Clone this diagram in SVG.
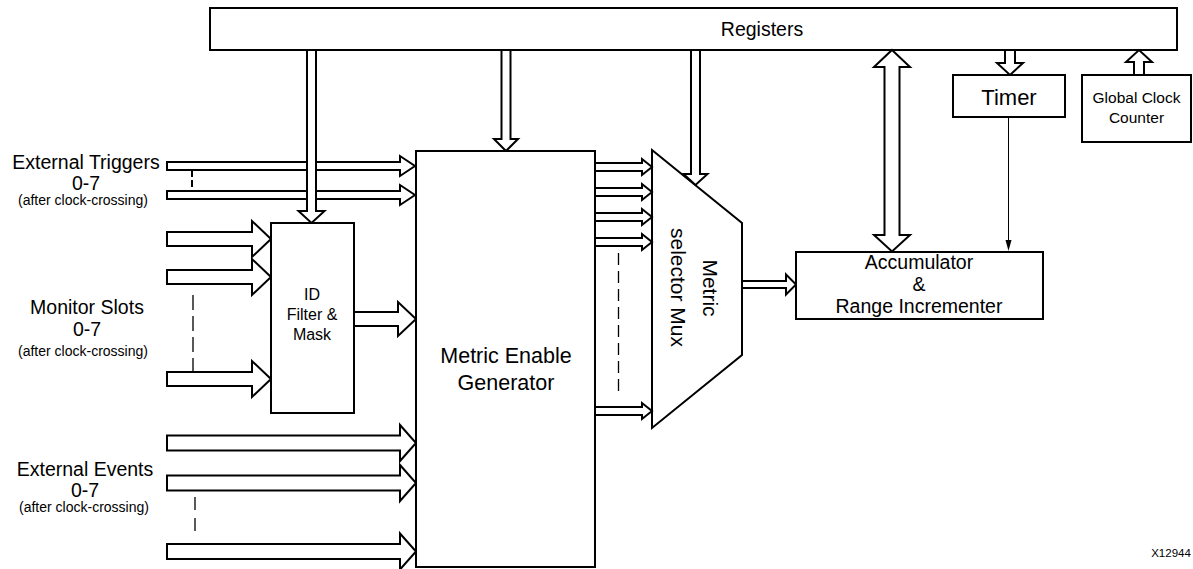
<svg xmlns="http://www.w3.org/2000/svg" width="1193" height="569" viewBox="0 0 1193 569">
<style>
.box{fill:#fff;stroke:#000;stroke-width:2}
.arr{fill:#fff;stroke:#000;stroke-width:2;stroke-linejoin:miter}
.t{font-family:"Liberation Sans",Arial,Helvetica,sans-serif;fill:#000;text-anchor:middle}
.dash{fill:none;stroke:#000}
</style>
<rect width="1193" height="569" fill="#fff"/>

<g id="registers">
<rect class="box" x="210" y="8" width="967" height="42"/>
<text class="t" x="762" y="36" font-size="19.5">Registers</text>
</g>

<g id="left-labels">
<text class="t" x="86" y="169" font-size="19.5">External Triggers</text>
<text class="t" x="86" y="190" font-size="19.5">0-7</text>
<text class="t" x="83" y="205" font-size="14">(after clock-crossing)</text>
<text class="t" x="87" y="314" font-size="19.5">Monitor Slots</text>
<text class="t" x="87" y="336" font-size="19.5">0-7</text>
<text class="t" x="83" y="356" font-size="14">(after clock-crossing)</text>
<text class="t" x="85" y="476" font-size="19.5">External Events</text>
<text class="t" x="85" y="497" font-size="19.5">0-7</text>
<text class="t" x="84" y="512" font-size="14">(after clock-crossing)</text>
</g>

<g id="metric-selector-mux">
<polygon class="box" points="652,150 742,223 742,355 652,428"/>
<text class="t" font-size="21" transform="translate(703,288) rotate(90)">Metric</text>
<text class="t" font-size="21" transform="translate(670.5,287.5) rotate(90)">selector Mux</text>
</g>

<g id="connectors">
<!-- external triggers -->
<polygon class="arr" points="167,162 400,162 400,156 415,166 400,176 400,170 167,170"/>
<polygon class="arr" points="167,191 400,191 400,185 415,195 400,205 400,199 167,199"/>
<line class="dash" x1="192" y1="170" x2="192" y2="191" stroke-width="2" stroke-dasharray="7 3"/>
<!-- monitor slots -->
<polygon class="arr" points="167,232 252,232 252,221 271,239 252,257 252,246 167,246"/>
<polygon class="arr" points="167,270 252,270 252,259 271,277 252,295 252,284 167,284"/>
<polygon class="arr" points="167,372 252,372 252,361 271,379 252,397 252,386 167,386"/>
<line class="dash" x1="193" y1="295" x2="193" y2="373" stroke="#333" stroke-width="1.3" stroke-dasharray="15 6"/>
<!-- external events -->
<polygon class="arr" points="167,435.5 400,435.5 400,425 416,443 400,461 400,450.5 167,450.5"/>
<polygon class="arr" points="167,475.5 400,475.5 400,465 416,483 400,501 400,490.5 167,490.5"/>
<polygon class="arr" points="167,544 400,544 400,533.5 416,551.5 400,569.5 400,559 167,559"/>
<line class="dash" x1="195" y1="497" x2="195" y2="532" stroke-width="1.3" stroke-dasharray="13 8"/>
<!-- ID out -->
<polygon class="arr" points="354,312 398,312 398,302 416,319 398,336 398,326 354,326"/>
<!-- registers down arrows -->
<polygon class="arr" points="307,50 316,50 316,211 324.5,211 311.5,223 298.5,211 307,211"/>
<polygon class="arr" points="501.5,50 510.5,50 510.5,139 518,139 506,151 494,139 501.5,139"/>
<polygon class="arr" points="691,50 700,50 700,174 707.5,174 695.5,185 683.5,174 691,174"/>
<polygon class="arr" points="1005,50 1015,50 1015,63 1023,63 1010,75 997,63 1005,63"/>
<polygon class="arr" points="1134,75 1144,75 1144,62 1152,62 1139,50 1126,62 1134,62"/>
<!-- bidirectional -->
<polygon class="arr" points="892,50 910,67 899.5,67 899.5,235 910,235 892,251.5 874,235 884.5,235 884.5,67 874,67"/>
<!-- MEG to mux -->
<polygon class="arr" points="595,163 642,163 642,159 652,167 642,175 642,171 595,171"/>
<polygon class="arr" points="595,188 642,188 642,184 652,192 642,200 642,196 595,196"/>
<polygon class="arr" points="595,213 642,213 642,209 652,217 642,225 642,221 595,221"/>
<polygon class="arr" points="595,238 642,238 642,234 652,242 642,250 642,246 595,246"/>
<polygon class="arr" points="595,407 642,407 642,403 652,411 642,419 642,415 595,415"/>
<line class="dash" x1="618.5" y1="253" x2="618.5" y2="397" stroke="#555" stroke-width="1.3" stroke-dasharray="12 6"/>
<!-- mux out -->
<polygon class="arr" points="742,281 786,281 786,274.5 796,284.5 786,294.5 786,288 742,288"/>
<!-- timer to accumulator -->
<line x1="1008.5" y1="117" x2="1008.5" y2="242" stroke="#000" stroke-width="1"/>
<polygon points="1005.5,240 1011.5,240 1008.5,251" fill="#000"/>
</g>

<g id="id-filter">
<rect class="box" x="271" y="223" width="83" height="190"/>
<text class="t" x="312" y="300" font-size="16">ID</text>
<text class="t" x="312" y="320" font-size="16">Filter &amp;</text>
<text class="t" x="312" y="340" font-size="16">Mask</text>
</g>

<g id="metric-enable-generator">
<rect class="box" x="416" y="151" width="179" height="416"/>
<text class="t" x="506" y="363" font-size="21.5">Metric Enable</text>
<text class="t" x="506" y="390" font-size="21.5">Generator</text>
</g>

<g id="timer">
<rect class="box" x="953" y="75" width="112" height="42"/>
<text class="t" x="1009" y="105" font-size="22">Timer</text>
</g>

<g id="global-clock-counter">
<rect class="box" x="1082" y="75" width="109" height="67"/>
<text class="t" x="1136.5" y="103" font-size="15.5">Global Clock</text>
<text class="t" x="1136.5" y="122.5" font-size="15.5">Counter</text>
</g>

<g id="accumulator">
<rect class="box" x="796" y="252" width="247" height="67"/>
<text class="t" x="919" y="269" font-size="19.5">Accumulator</text>
<text class="t" x="919" y="291" font-size="19.5">&amp;</text>
<text class="t" x="919" y="312.5" font-size="19.5">Range Incrementer</text>
</g>

<text class="t" x="1171" y="557" font-size="11.5">X12944</text>
</svg>
